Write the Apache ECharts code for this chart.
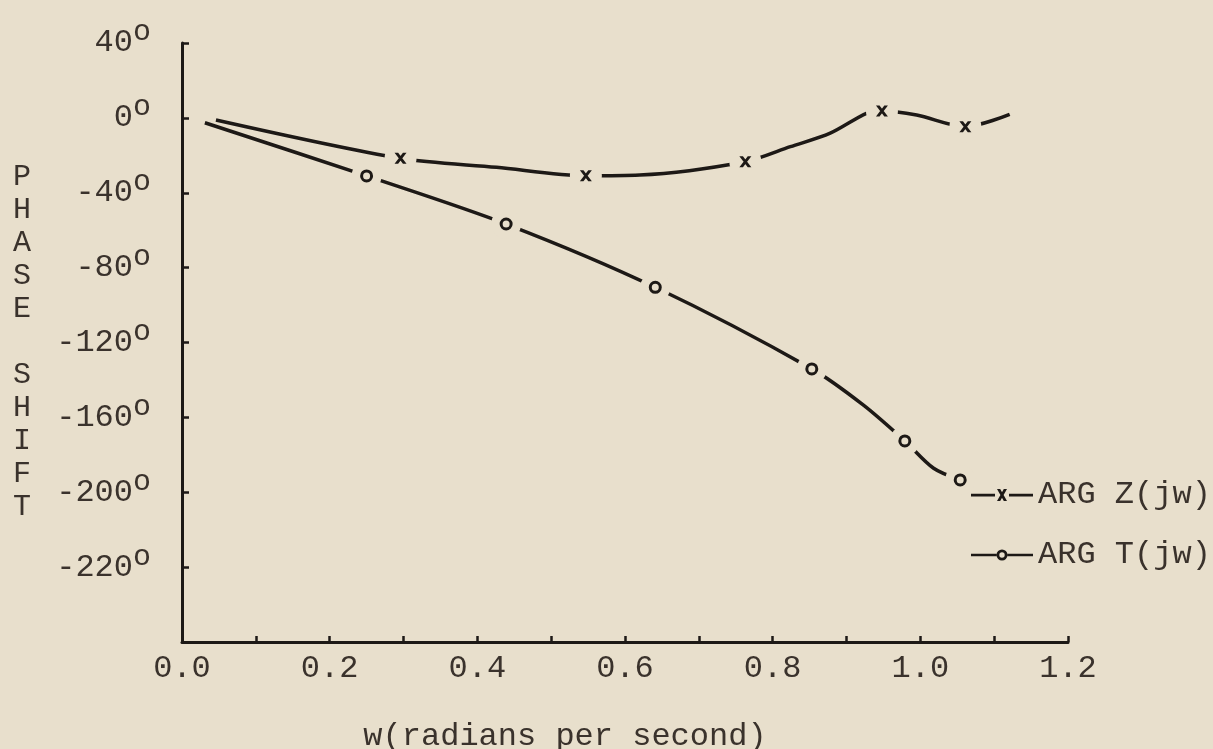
<!DOCTYPE html>
<html>
<head>
<meta charset="utf-8">
<style>
html,body{margin:0;padding:0;background:#e8dfcc;}
#chart{width:1213px;height:749px;}
</style>
<script src="https://cdn.jsdelivr.net/npm/echarts@6/dist/echarts.min.js"></script>
</head>
<body>
<div id="chart"></div>
<script>
// ---- data ----
const seriesNames = ['ARG Z(jw)', 'ARG T(jw)'];

// traced curve of ARG Z(jw)
const zCurveW   = [0.046, 0.296, 0.426, 0.547, 0.620, 0.763, 0.824, 0.878, 0.927, 0.948, 0.995, 1.061, 1.121];
const zCurveDeg = [-1.1, -21.6, -26.4, -30.9, -30.5, -23.4, -15.4, -8.2, 2.4, 3.7, 1.5, -4.7, 1.9];
// plotted (x) points of ARG Z(jw)
const zMarkW    = [0.296, 0.547, 0.763, 0.948, 1.061];
const zMarkDeg  = [-21.6, -30.9, -23.4, 3.7, -4.7];

// traced curve of ARG T(jw)
const tCurveW   = [0.031, 0.250, 0.439, 0.641, 0.853, 0.923, 0.979, 1.018, 1.054];
const tCurveDeg = [-2.6, -31.0, -56.7, -90.5, -134.1, -153.5, -172.6, -187.2, -193.4];
// plotted (o) points of ARG T(jw)
const tMarkW    = [0.250, 0.439, 0.641, 0.853, 0.979, 1.054];
const tMarkDeg  = [-31.0, -56.7, -90.5, -134.1, -172.6, -193.4];

// tick labels
const xTickLabels = ['0.0', '0.2', '0.4', '0.6', '0.8', '1.0', '1.2'];
const yTickValues = [40, 0, -40, -80, -120, -160, -200, -240, -280];
const yTickLabels = ['40', '0', '-40', '-80', '-120', '-160', '-200', '-220', ''];

const xAxisTitle = 'w(radians per second)';
const yAxisTitle = 'PHASE SHIFT';

// ---- styling ----
const BG = '#e8dfcc';
const INK = '#1d1916';
const TXT = '#3a322c';
const FONT = '"Liberation Mono", "DejaVu Sans Mono", monospace';

const zip = (a, b) => a.map((v, i) => [v, b[i]]);

const xSymbol = 'path://M0,0 L3.6,0 L12,11 L8.4,11 Z M8.4,0 L12,0 L3.6,11 L0,11 Z';
const zLegendIcon = 'path://M0,4.8 L24,4.8 L24,7.4 L0,7.4 Z M38,4.8 L62,4.8 L62,7.4 L38,7.4 Z M26,0 L29.2,0 L36,12 L32.8,12 Z M32.8,0 L36,0 L29.2,12 L26,12 Z';
const tLegendIcon = 'path://M0,4.8 L25.5,4.8 L25.5,7.2 L0,7.2 Z M36.5,4.8 L62,4.8 L62,7.2 L36.5,7.2 Z M25.5,6 A5.5,5.5 0 1,1 36.5,6 A5.5,5.5 0 1,1 25.5,6 Z M28.3,6 A2.7,2.7 0 1,0 33.7,6 A2.7,2.7 0 1,0 28.3,6 Z';

const yNameText = yAxisTitle.split(' ').map(w => w.split('').join('\n')).join('\n\n');

const chart = echarts.init(document.getElementById('chart'), null, {renderer: 'canvas'});

const option = {
  backgroundColor: BG,
  animation: false,
  grid: {left: 182, right: 145, top: 43, bottom: 107, containLabel: false, outerBoundsMode: 'none'},
  legend: {
    orient: 'vertical',
    left: 966,
    top: 474,
    z: 6,
    itemWidth: 62,
    itemHeight: 12,
    itemGap: 28,
    selectedMode: false,
    data: [
      {name: seriesNames[0], icon: zLegendIcon},
      {name: seriesNames[1], icon: tLegendIcon}
    ],
    textStyle: {fontFamily: FONT, fontSize: 32, color: TXT, lineHeight: 32}
  },
  xAxis: {
    type: 'value',
    min: 0,
    max: 1.2,
    interval: 0.2,
    name: xAxisTitle,
    nameLocation: 'middle',
    nameGap: 95,
    nameTextStyle: {fontFamily: FONT, fontSize: 32, color: TXT, align: 'center', verticalAlign: 'middle', padding: [0, 120, 0, 0]},
    axisLine: {show: true, onZero: false, lineStyle: {color: INK, width: 3}},
    axisTick: {show: true, inside: true, length: 6, lineStyle: {color: INK, width: 2.5}},
    minorTick: {show: true, splitNumber: 2, length: 6, lineStyle: {color: INK, width: 2.5}},
    splitLine: {show: false},
    minorSplitLine: {show: false},
    axisLabel: {
      fontFamily: FONT, fontSize: 32, color: TXT, margin: 11,
      formatter: v => xTickLabels[Math.round(v / 0.2)] || ''
    }
  },
  yAxis: {
    type: 'value',
    min: -280,
    max: 40,
    interval: 40,
    name: yNameText,
    nameLocation: 'middle',
    nameRotate: 0,
    nameGap: 160,
    nameTextStyle: {fontFamily: FONT, fontSize: 30, lineHeight: 33, color: TXT, align: 'center', verticalAlign: 'middle', padding: [0, 0, 52, 0]},
    axisLine: {show: true, onZero: false, lineStyle: {color: INK, width: 3}},
    axisTick: {show: true, inside: true, length: 7, lineStyle: {color: INK, width: 2.5}},
    splitLine: {show: false},
    axisLabel: {
      margin: 31,
      formatter: v => {
        const i = yTickValues.indexOf(Math.round(v));
        const t = i >= 0 ? yTickLabels[i] : '';
        return t ? '{n|' + t + '}{s|o}' : '';
      },
      rich: {
        n: {fontFamily: FONT, fontSize: 32, color: TXT, lineHeight: 32},
        s: {fontFamily: FONT, fontSize: 30, color: TXT, lineHeight: 30, padding: [0, 0, 21, 0]}
      }
    }
  },
  series: [
    {
      name: seriesNames[0], type: 'line', data: zip(zCurveW, zCurveDeg),
      smooth: 0.3, symbol: 'none', z: 2, silent: true,
      color: INK, lineStyle: {color: INK, width: 3.5}, itemStyle: {color: INK}
    },
    {
      name: seriesNames[1], type: 'line', data: zip(tCurveW, tCurveDeg),
      smooth: 0.3, symbol: 'none', z: 2, silent: true,
      color: INK, lineStyle: {color: INK, width: 3.5}, itemStyle: {color: INK}
    },
    {
      name: 'Z gaps', type: 'scatter', data: zip(zMarkW, zMarkDeg),
      symbol: 'circle', symbolSize: 32, z: 3, silent: true,
      itemStyle: {color: BG, opacity: 1}
    },
    {
      name: 'T gaps', type: 'scatter', data: zip(tMarkW, tMarkDeg),
      symbol: 'circle', symbolSize: 30, z: 3, silent: true,
      itemStyle: {color: BG, opacity: 1}
    },
    {
      name: 'Z marks', type: 'scatter', data: zip(zMarkW, zMarkDeg),
      symbol: xSymbol, symbolSize: [12, 11], z: 4, silent: true,
      itemStyle: {color: INK, opacity: 1}
    },
    {
      name: 'T marks', type: 'scatter', data: zip(tMarkW, tMarkDeg),
      symbol: 'circle', symbolSize: 10, z: 4, silent: true,
      itemStyle: {color: BG, borderColor: INK, borderWidth: 3, opacity: 1}
    }
  ]
};

chart.setOption(option);
</script>
</body>
</html>
